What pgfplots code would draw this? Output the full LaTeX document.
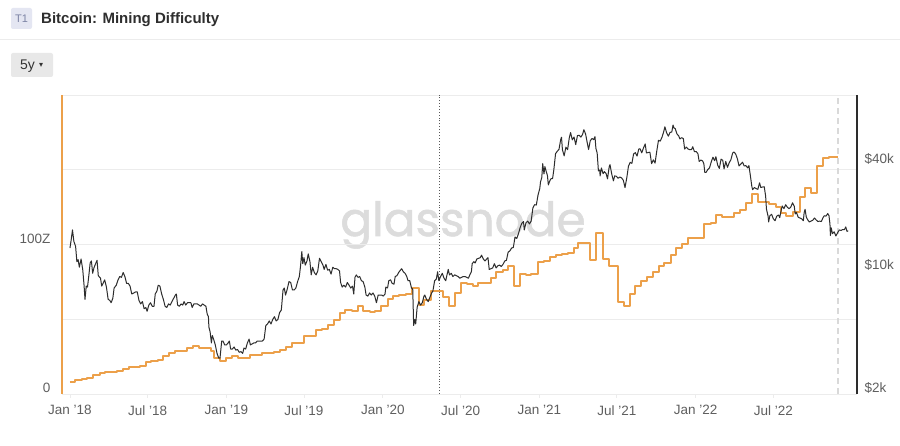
\documentclass[border=0pt]{standalone}
\usepackage{fontspec}
\setmainfont{Liberation Sans}
\newfontfamily\wmfont{Poppins}[FakeBold=1.2]
\newfontfamily\symfont{DejaVu Sans}
\usepackage{pgfplots}
\pgfplotsset{compat=1.18}

\definecolor{btcorange}{RGB}{236,160,74}
\definecolor{pricegrey}{RGB}{45,45,45}
\definecolor{gridgrey}{RGB}{236,236,236}
\definecolor{labelgrey}{RGB}{95,95,95}
\definecolor{wmgrey}{RGB}{220,220,220}
\definecolor{badge}{RGB}{228,230,242}
\definecolor{badgetext}{RGB}{125,132,165}
\definecolor{button}{RGB}{232,232,232}

\begin{document}
\begin{tikzpicture}
\path[use as bounding box, fill=white] (0,0) rectangle (900pt,446pt);

% header
\fill[badge, rounded corners=2pt] (11pt,417pt) rectangle (32pt,438pt);
\node[text=badgetext, font=\fontsize{11}{13}\selectfont] at (21.5pt,427.5pt) {T1};
\node[anchor=base west, inner sep=0pt, text=black!82, font=\bfseries\fontsize{15}{18}\selectfont] at (41pt,422pt) {Bitcoin: Mining Difficulty};
\draw[gridgrey, line width=1pt] (0,406pt) -- (900pt,406pt);
\fill[button, rounded corners=2pt] (11pt,369pt) rectangle (53pt,393pt);
\node[anchor=base west, inner sep=0pt, text=black!80, font=\fontsize{14}{16}\selectfont] at (20pt,376pt) {5y};
\node[anchor=base west, inner sep=0pt, text=black!80, font=\symfont\fontsize{8}{10}\selectfont] at (39pt,378pt) {▾};

% watermark
\node[anchor=base, inner sep=0pt, text=wmgrey, font=\wmfont\fontsize{47}{50}\selectfont] at (463pt,210pt) {glassnode};

% difficulty, left axis
\begin{axis}[
    at={(62pt,52pt)}, anchor=south west, scale only axis,
    width=795pt, height=299pt,
    xmin=2017.949, xmax=2023.031, ymin=0, ymax=200,
    axis x line*=bottom, axis y line*=left,
    x axis line style={draw=gridgrey, line width=0.8pt},
    y axis line style={draw=btcorange, line width=1.8pt},
    xtick={2018,2018.496,2019,2019.496,2020,2020.497,2021,2021.496,2022,2022.496},
    xticklabels={Jan '18,Jul '18,Jan '19,Jul '19,Jan '20,Jul '20,Jan '21,Jul '21,Jan '22,Jul '22},
    x tick style={draw=gridgrey, line width=0.8pt},
    major tick length=4pt, tick align=outside,
    ytick={0,50,100,150,200}, yticklabels={0,,100Z,,},
    y tick style={draw=none},
    ymajorgrids, major grid style={draw=gridgrey, line width=0.8pt},
    tick label style={font=\fontsize{13.5}{15}\selectfont, text=labelgrey},
    yticklabel style={yshift=6pt, xshift=-4pt},
    xticklabel style={yshift=-4pt},
]
\addplot[black!65, dotted, line width=0.9pt] coordinates {(2020.36,0) (2020.36,200)};
\addplot[black!15, line width=1.2pt, dash pattern=on 6pt off 4pt] coordinates {(2022.91,0) (2022.91,200)};
\addplot[const plot, btcorange, line width=2pt, line join=round] table {
t v
2018.000 8.3
2018.035 9.5
2018.075 10.2
2018.110 11.0
2018.150 12.5
2018.190 13.9
2018.225 14.8
2018.265 15.0
2018.300 15.6
2018.340 16.5
2018.375 17.8
2018.410 18.3
2018.450 19.0
2018.485 21.2
2018.520 21.8
2018.560 23.0
2018.595 25.5
2018.635 27.4
2018.670 28.8
2018.710 28.9
2018.745 30.6
2018.785 32.0
2018.825 30.8
2018.865 30.8
2018.900 28.5
2018.920 24.2
2018.960 21.9
2018.995 24.1
2019.035 25.2
2019.075 24.1
2019.115 24.1
2019.150 26.0
2019.190 26.1
2019.230 27.2
2019.270 27.4
2019.305 28.3
2019.345 29.5
2019.380 31.6
2019.420 33.9
2019.455 34.0
2019.495 38.9
2019.535 38.6
2019.570 42.8
2019.610 43.7
2019.650 46.2
2019.685 49.5
2019.725 54.0
2019.760 56.2
2019.800 55.8
2019.840 58.7
2019.875 55.6
2019.915 55.0
2019.950 55.3
2019.990 58.9
2020.030 63.3
2020.065 65.5
2020.105 66.4
2020.145 66.7
2020.185 71.0
2020.230 59.7
2020.265 63.1
2020.305 69.0
2020.345 69.2
2020.385 65.0
2020.420 59.0
2020.460 67.7
2020.500 74.0
2020.535 73.5
2020.575 72.5
2020.610 74.2
2020.650 74.5
2020.690 77.5
2020.725 81.6
2020.765 82.8
2020.800 85.8
2020.840 72.0
2020.875 80.2
2020.915 79.8
2020.950 80.3
2020.990 88.4
2021.030 88.8
2021.070 91.8
2021.105 93.0
2021.145 93.8
2021.185 94.6
2021.225 97.5
2021.250 101.0
2021.290 101.2
2021.325 89.6
2021.365 107.5
2021.405 90.3
2021.445 85.5
2021.500 61.6
2021.540 58.7
2021.580 66.8
2021.615 72.0
2021.650 75.5
2021.690 78.5
2021.725 81.8
2021.765 85.3
2021.800 87.4
2021.840 93.0
2021.875 97.4
2021.915 100.0
2021.950 104.3
2021.990 104.6
2022.030 104.1
2022.055 114.0
2022.095 114.5
2022.130 120.0
2022.170 118.2
2022.210 118.5
2022.245 121.1
2022.285 123.0
2022.320 127.8
2022.358 134.1
2022.395 128.5
2022.435 128.3
2022.470 126.9
2022.510 125.0
2022.545 121.0
2022.580 118.8
2022.620 121.6
2022.665 132.0
2022.700 137.5
2022.740 134.5
2022.775 152.8
2022.815 157.7
2022.850 158.5
2022.910 158.5
};
\end{axis}

% price, right log axis
\begin{axis}[
    at={(62pt,52pt)}, anchor=south west, scale only axis,
    width=795pt, height=299pt,
    xmin=2017.949, xmax=2023.031,
    ymode=log, ymin=2000, ymax=100000,
    hide x axis, axis y line*=right,
    y axis line style={draw=pricegrey, line width=1.6pt},
    ytick={2000,10000,40000}, yticklabels={\$2k,\$10k,\$40k},
    y tick style={draw=none}, minor tick style={draw=none},
    tick label style={font=\fontsize{13.5}{15}\selectfont, text=labelgrey},
    yticklabel style={yshift=6pt, xshift=4pt},
]
\addplot[pricegrey, line width=1pt, line join=round] table {
t p
2018.000 13500
2018.008 15100
2018.016 17100
2018.025 14700
2018.036 13800
2018.044 11300
2018.052 11600
2018.060 10500
2018.071 11700
2018.082 10100
2018.090 8300
2018.096 6900
2018.104 8200
2018.112 8100
2018.121 9500
2018.129 11100
2018.137 11400
2018.145 9700
2018.153 10400
2018.162 10900
2018.173 11500
2018.181 9400
2018.195 9100
2018.203 8200
2018.214 8600
2018.222 8900
2018.233 8100
2018.244 6900
2018.255 6800
2018.263 6600
2018.274 7000
2018.282 8000
2018.296 8300
2018.307 8900
2018.318 9300
2018.329 9200
2018.340 9800
2018.351 9300
2018.362 8500
2018.373 8500
2018.384 8200
2018.395 7400
2018.408 7500
2018.419 7600
2018.430 7600
2018.441 6800
2018.452 6500
2018.463 6700
2018.474 6100
2018.485 6200
2018.493 5900
2018.504 6400
2018.515 6600
2018.526 6300
2018.537 6300
2018.545 7400
2018.556 7700
2018.564 8300
2018.575 8200
2018.586 7400
2018.597 6900
2018.608 6300
2018.619 6200
2018.630 6500
2018.641 6400
2018.652 6700
2018.663 7000
2018.674 7300
2018.680 7400
2018.688 6400
2018.699 6300
2018.710 6500
2018.721 6400
2018.729 6700
2018.740 6400
2018.751 6600
2018.762 6600
2018.773 6600
2018.781 6200
2018.792 6500
2018.803 6500
2018.814 6500
2018.825 6400
2018.836 6300
2018.847 6500
2018.858 6400
2018.869 6300
2018.877 5700
2018.885 5500
2018.888 4800
2018.896 4500
2018.904 3900
2018.910 4300
2018.918 4100
2018.929 3800
2018.940 3400
2018.951 3200
2018.959 3200
2018.970 4000
2018.978 4000
2018.989 3800
2019.000 3800
2019.011 3900
2019.019 4000
2019.027 3600
2019.038 3600
2019.049 3700
2019.060 3550
2019.071 3580
2019.082 3450
2019.093 3480
2019.104 3400
2019.112 3650
2019.123 3600
2019.134 3900
2019.145 4100
2019.153 3800
2019.164 3850
2019.175 3900
2019.186 3900
2019.197 4000
2019.208 4000
2019.219 4000
2019.230 4000
2019.241 4100
2019.252 4900
2019.263 5000
2019.274 5200
2019.285 5000
2019.296 5300
2019.307 5500
2019.318 5200
2019.329 5300
2019.340 5800
2019.351 6000
2019.362 7800
2019.370 8000
2019.378 7300
2019.389 7900
2019.400 8700
2019.411 8600
2019.422 7800
2019.433 7800
2019.444 8000
2019.455 8700
2019.466 9300
2019.474 10700
2019.482 12900
2019.488 11000
2019.496 11900
2019.504 10800
2019.515 11400
2019.523 12500
2019.534 11300
2019.542 9500
2019.551 10500
2019.562 9800
2019.573 9500
2019.584 10000
2019.595 11800
2019.606 11300
2019.617 10800
2019.625 10200
2019.636 10900
2019.647 10100
2019.658 10200
2019.669 9600
2019.680 10500
2019.691 10300
2019.702 10300
2019.713 10200
2019.723 10000
2019.730 8600
2019.740 8100
2019.751 8300
2019.762 8100
2019.773 8600
2019.784 8300
2019.795 8000
2019.806 8200
2019.814 7400
2019.822 9200
2019.830 9500
2019.841 9200
2019.852 9300
2019.863 8800
2019.874 8700
2019.885 8100
2019.893 7300
2019.904 7200
2019.915 7500
2019.926 7300
2019.937 7500
2019.948 7200
2019.959 6600
2019.970 7300
2019.981 7300
2019.992 7300
2020.003 7200
2020.014 7400
2020.019 8100
2020.030 8000
2020.038 8800
2020.049 8900
2020.060 8500
2020.071 8400
2020.079 9300
2020.090 9400
2020.101 9800
2020.112 10100
2020.120 10300
2020.131 9900
2020.142 9700
2020.153 9300
2020.161 8800
2020.172 8800
2020.183 8000
2020.191 7900
2020.197 4900
2020.205 5300
2020.210 5000
2020.219 6200
2020.230 6700
2020.241 6400
2020.252 6600
2020.263 7200
2020.268 7300
2020.279 6900
2020.290 6700
2020.301 7100
2020.312 7500
2020.320 7700
2020.331 8800
2020.342 9000
2020.350 9900
2020.358 8800
2020.369 9300
2020.380 9700
2020.391 9100
2020.402 8800
2020.410 9500
2020.418 10200
2020.426 9500
2020.437 9700
2020.448 9300
2020.459 9500
2020.470 9400
2020.481 9300
2020.492 9100
2020.503 9200
2020.514 9300
2020.525 9300
2020.536 9200
2020.547 9100
2020.558 9600
2020.566 9900
2020.571 11000
2020.582 11300
2020.590 11100
2020.601 11700
2020.612 11800
2020.623 11900
2020.631 12300
2020.642 11700
2020.653 11400
2020.664 11700
2020.672 11900
2020.680 10200
2020.691 10300
2020.702 10400
2020.713 11000
2020.724 10400
2020.735 10700
2020.746 10800
2020.757 10600
2020.768 10900
2020.779 11400
2020.790 11500
2020.801 12800
2020.812 13000
2020.823 13500
2020.834 13600
2020.845 15600
2020.856 15300
2020.867 16300
2020.878 17700
2020.889 18700
2020.899 19100
2020.904 17100
2020.915 18800
2020.926 19200
2020.937 18500
2020.948 19200
2020.959 22800
2020.970 23800
2020.981 23700
2020.992 27000
2021.003 29400
2021.008 32100
2021.016 34000
2021.022 40700
2021.030 35600
2021.036 39200
2021.044 36800
2021.052 34900
2021.058 30800
2021.066 32300
2021.074 33400
2021.085 33500
2021.093 37600
2021.104 46400
2021.115 47900
2021.126 49100
2021.137 55900
2021.142 57500
2021.148 48800
2021.159 45100
2021.170 50500
2021.181 48900
2021.192 57300
2021.200 61200
2021.211 55600
2021.222 57700
2021.233 52300
2021.244 58800
2021.255 59000
2021.266 57600
2021.277 59800
2021.285 63500
2021.296 60000
2021.304 55000
2021.315 49000
2021.326 55000
2021.337 56600
2021.348 55800
2021.356 58000
2021.362 49700
2021.370 46800
2021.378 37000
2021.386 37500
2021.389 34700
2021.397 38500
2021.408 35700
2021.416 36700
2021.427 35800
2021.436 33400
2021.447 39100
2021.452 40200
2021.463 35600
2021.474 32500
2021.482 34700
2021.493 34500
2021.504 33600
2021.515 34200
2021.526 33800
2021.537 32800
2021.548 29800
2021.559 33700
2021.570 39400
2021.581 41400
2021.592 40900
2021.603 46300
2021.614 47000
2021.625 45000
2021.636 49300
2021.644 49500
2021.655 46900
2021.666 50000
2021.677 52700
2021.685 46800
2021.696 47100
2021.707 47300
2021.718 40700
2021.729 42800
2021.740 41000
2021.751 48000
2021.762 55300
2021.773 54700
2021.784 57400
2021.795 61700
2021.803 66000
2021.814 60900
2021.825 58400
2021.836 61300
2021.847 61600
2021.855 67500
2021.861 64900
2021.869 64400
2021.880 60100
2021.891 58600
2021.899 56300
2021.910 57200
2021.921 56500
2021.929 49300
2021.940 50600
2021.951 49300
2021.962 48900
2021.973 48900
2021.981 50800
2021.992 47600
2022.003 47700
2022.014 46400
2022.022 41900
2022.033 42700
2022.044 42200
2022.052 40700
2022.058 36300
2022.066 36300
2022.077 37700
2022.088 38500
2022.099 41600
2022.110 44300
2022.121 42300
2022.129 44600
2022.140 40000
2022.151 38300
2022.162 43200
2022.173 42500
2022.181 38000
2022.192 41900
2022.203 38800
2022.214 41200
2022.225 42900
2022.236 46800
2022.244 47400
2022.255 46300
2022.266 43500
2022.277 39500
2022.288 40500
2022.299 41500
2022.310 39500
2022.321 39700
2022.332 38500
2022.340 39700
2022.348 35500
2022.359 30100
2022.364 29000
2022.375 29800
2022.386 29400
2022.397 29100
2022.408 31700
2022.416 29800
2022.427 30000
2022.438 30100
2022.447 26600
2022.452 22500
2022.463 20400
2022.466 19000
2022.474 20600
2022.485 21000
2022.496 19800
2022.507 19300
2022.518 20500
2022.529 20800
2022.537 20100
2022.548 22500
2022.553 23400
2022.564 22600
2022.575 23800
2022.586 23000
2022.597 22600
2022.608 23100
2022.619 24400
2022.630 23300
2022.636 21100
2022.644 21500
2022.655 20200
2022.666 20000
2022.677 19800
2022.688 19300
2022.693 21400
2022.699 22400
2022.707 20200
2022.718 19400
2022.726 19000
2022.737 19200
2022.748 19400
2022.759 20000
2022.770 19500
2022.781 19100
2022.792 19200
2022.803 19100
2022.814 20100
2022.822 20600
2022.833 20500
2022.844 21200
2022.852 20600
2022.858 18500
2022.861 15900
2022.866 17600
2022.874 16300
2022.885 16700
2022.896 15800
2022.907 16500
2022.918 17100
2022.929 17000
2022.940 17200
2022.951 17200
2022.959 17800
2022.967 16800
2022.975 16900
};
\end{axis}
\end{tikzpicture}
\end{document}
